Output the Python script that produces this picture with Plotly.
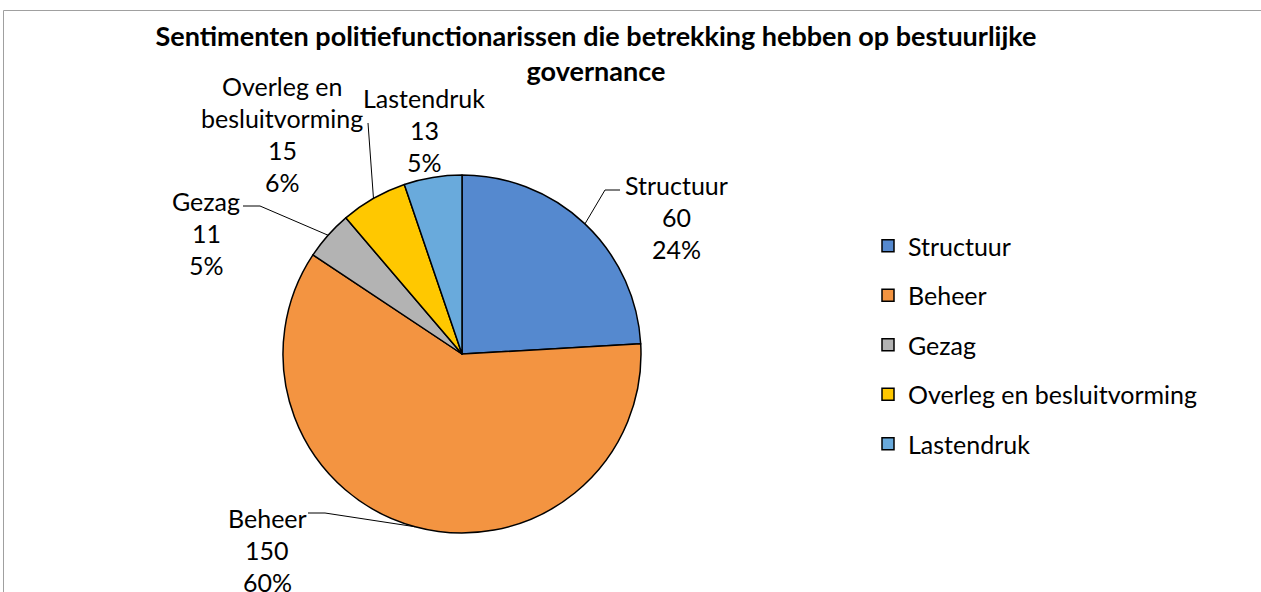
import numpy as np
import plotly.graph_objects as go

# ---------------- data ----------------
categories = ["Structuur", "Beheer", "Gezag", "Overleg en besluitvorming", "Lastendruk"]
values = [60, 150, 11, 15, 13]
percent_labels = ["24%", "60%", "5%", "6%", "5%"]
label_name_lines = [["Structuur"], ["Beheer"], ["Gezag"], ["Overleg en", "besluitvorming"], ["Lastendruk"]]
colors = ["#5589CF", "#F39441", "#B3B3B3", "#FFC800", "#69AADC"]
title_text = "Sentimenten politiefunctionarissen die betrekking hebben op bestuurlijke<br>governance"

# ---------------- layout constants (pixels) ----------------
W, H = 1261, 592
CX, CY, R = 462, 354, 179
LINE_STEP = 32
FONT = "Lato, 'Open Sans', sans-serif"
label_centers = [(676, 217), (267, 550), (206, 233), (282, 134), (424, 130)]
# leader line: (end point near text, elbow point); None = no leader
leader_pts = [((620, 190), (605, 190)),
              ((308, 513), (325, 513)),
              ((243, 206), (260, 206)),
              ((368, 123), (368, 123)),
              None]

vals = np.array(values, dtype=float)
total = vals.sum()
starts = np.cumsum(vals) - vals
mid_ang = (starts + vals / 2) / total * 2 * np.pi
tips_x = CX + R * np.sin(mid_ang)
tips_y = CY - R * np.cos(mid_ang)

fig = go.Figure()

fig.add_trace(go.Pie(
    labels=categories, values=values, sort=False, direction="clockwise", rotation=0,
    marker=dict(colors=colors, line=dict(color="#000000", width=1.5)),
    textinfo="none", showlegend=False,
    domain=dict(x=[(CX - R) / W, (CX + R) / W], y=[1 - (CY + R) / H, 1 - (CY - R) / H]),
))

# leader lines
for i, lp in enumerate(leader_pts):
    if lp is None:
        continue
    (ex, ey), (bx, by) = lp
    fig.add_trace(go.Scatter(
        x=[ex, bx, tips_x[i]], y=[ey, by, tips_y[i]], mode="lines",
        line=dict(color="#000000", width=1), hoverinfo="skip", showlegend=False,
    ))

# legend entries
for i, (name, col) in enumerate(zip(categories, colors)):
    fig.add_trace(go.Scatter(
        x=[None], y=[None], mode="markers", name=name, legendgroup=f"g{i}",
        marker=dict(symbol="square", size=12, color=col, line=dict(color="#000000", width=1.5)),
        showlegend=True,
    ))

# data labels
annotations = []
for i, (lines, (lx, ly)) in enumerate(zip(label_name_lines, label_centers)):
    all_lines = lines + [str(values[i]), percent_labels[i]]
    n = len(all_lines)
    for j, t in enumerate(all_lines):
        annotations.append(dict(
            x=lx, y=ly + (j - (n - 1) / 2) * LINE_STEP, xref="x", yref="y",
            text=t, showarrow=False, font=dict(family=FONT, size=25, color="#000000"),
            xanchor="center", yanchor="middle",
        ))

fig.update_layout(
    width=W, height=H,
    margin=dict(l=0, r=0, t=0, b=0),
    paper_bgcolor="#FFFFFF", plot_bgcolor="rgba(0,0,0,0)",
    title=dict(text=title_text, x=596 / W, xanchor="center", y=1 - 46 / H, yanchor="middle",
               font=dict(family=FONT, size=27, color="#000000", weight="bold")),
    xaxis=dict(range=[0, W], visible=False, fixedrange=True, domain=[0, 1]),
    yaxis=dict(range=[H, 0], visible=False, fixedrange=True, domain=[0, 1]),
    showlegend=True,
    legend=dict(x=868 / W, y=1 - 223 / H, xanchor="left", yanchor="top",
                font=dict(family=FONT, size=25, color="#000000"),
                tracegroupgap=14, traceorder="grouped", bgcolor="rgba(0,0,0,0)"),
    annotations=annotations,
    shapes=[dict(type="rect", xref="x", yref="y", x0=3.5, y0=10.5, x1=W + 5, y1=H + 5,
                 line=dict(color="#A0A0A0", width=1), fillcolor="rgba(0,0,0,0)", layer="below")],
)

fig.write_html("out.html", config={"displayModeBar": False},
               post_script="document.body.style.margin='0';")
